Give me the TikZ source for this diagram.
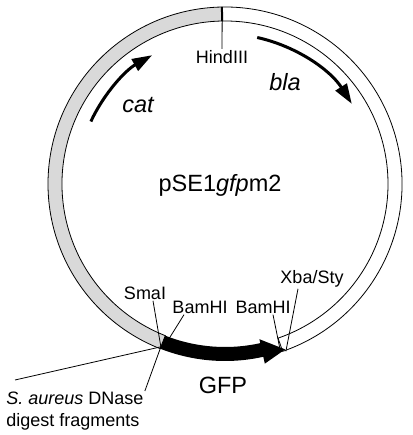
\documentclass[tikz,border=0pt]{standalone}
\usepackage{fontspec}
\setmainfont{Liberation Sans}
\usetikzlibrary{arrows.meta,calc}

\begin{document}
\begin{tikzpicture}[x=1pt, y=1pt, line width=0.8pt,
    site/.style={font=\fontsize{18}{22}\selectfont, inner sep=1pt},
    big/.style={font=\fontsize{23.5}{28}\selectfont, inner sep=1pt},
    orf/.style={line width=3pt, -{Triangle[length=20pt,width=13pt]}}]
        \useasboundingbox (0,0) rectangle (412,435);
        \coordinate (c) at (225,251);
        % ring: stippled cat half, open bla half
        \draw[fill=gray!30] ($(c)+(91:177)$) arc[start angle=91, end angle=248.5, radius=177] -- ($(c)+(248.5:163)$) arc[start angle=248.5, end angle=91, radius=163] -- cycle;
        \draw ($(c)+(-71:177)$) arc[start angle=-71, end angle=91, radius=177] -- ($(c)+(91:163)$) arc[start angle=91, end angle=-71, radius=163] -- cycle;
        \draw[line width=2pt] ($(c)+(91:163)$) -- ($(c)+(91:177)$);
        % GFP insert
        \fill ($(c)+(248.5:163)$) arc[start angle=248.5, end angle=282.5, radius=163] -- ($(c)+(282.5:159)$) -- ($(c)+(290:176)$) -- ($(c)+(282.5:184)$) -- ($(c)+(282.5:177)$) arc[start angle=282.5, end angle=248.5, radius=177] -- cycle;
        \draw[orf] ($(c)+(155:148)$) arc[start angle=155, end angle=119.5, radius=148];
        \draw[orf] ($(c)+(77.6:150)$) arc[start angle=77.6, end angle=32.3, radius=150];
        % cut sites
        \coordinate (hindcut) at ($(c)+(91:163)$);
        \coordinate (smacut) at ($(c)+(248.5:175)$);
        \coordinate (bamcut1) at ($(c)+(250:166)$);
        \coordinate (bamcut2) at ($(c)+(288.5:172)$);
        \coordinate (xbacut) at ($(c)+(290:178)$);
        \coordinate (fragend) at (15,55);
        % labels
        \node[big] (plasmid) at (220,250) {pSE1\textit{gfp}m2};
        \node[big, font=\fontsize{23.5}{28}\selectfont\itshape] (cat) at (138,330) {cat};
        \node[big, font=\fontsize{23.5}{28}\selectfont\itshape] (bla) at (285,353) {bla};
        \node[site] (hind) at (222,378) {HindIII};
        \node[site] (smai) at (145,142) {SmaI};
        \node[site] (bam1) at (200,128) {BamHI};
        \node[site] (bam2) at (263,128) {BamHI};
        \node[site] (xba) at (312,156) {Xba/Sty};
        \node[big] (gfp) at (223,50) {GFP};
        \node[site, align=left, anchor=north west] (aureus) at (5,44) {\textit{S. aureus} DNase\\digest fragments};
        \draw (hind.north) -- (hindcut);
        \draw ([xshift=8pt]smai.south) -- (smacut);
        \draw ([xshift=-16pt]bam1.south) -- (bamcut1);
        \draw ([xshift=10pt]bam2.south) -- (bamcut2);
        \draw ([xshift=-14pt]xba.south) -- (xbacut);
        \draw (fragend) -- (smacut);
        \draw (aureus.north east) -- (smacut);
    \end{tikzpicture}
\end{document}
